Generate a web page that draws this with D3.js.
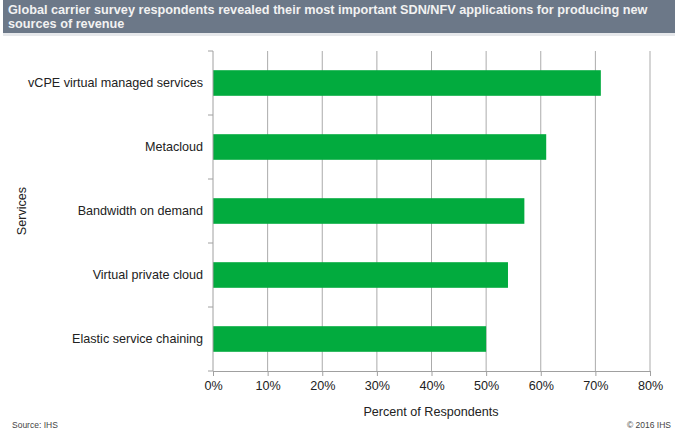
<!DOCTYPE html>
<html><head><meta charset="utf-8">
<script src="https://cdn.jsdelivr.net/npm/d3@7"></script>
<style>body{margin:0;background:#fff;} svg{display:block;font-family:"Liberation Sans",Arial,sans-serif;}</style>
</head><body>
<script>
const categories = ["vCPE virtual managed services","Metacloud","Bandwidth on demand","Virtual private cloud","Elastic service chaining"];
const values = [71, 61, 57, 54, 50];
const xTicks = [0,10,20,30,40,50,60,70,80];
const titleLines = ["Global carrier survey respondents revealed their most important SDN/NFV applications for producing new","sources of revenue"];

const W=677,H=432;
const svg=d3.select("body").append("svg").attr("width",W).attr("height",H);
svg.append("rect").attr("x",3).attr("y",0).attr("width",672).attr("height",33).attr("fill","#6c7888");
svg.append("rect").attr("x",3).attr("y",33).attr("width",672).attr("height",3).attr("fill","#e6e8eb");
svg.selectAll("text.title").data(titleLines).join("text").attr("class","title")
  .attr("x",8).attr("y",(d,i)=>14+i*13.5).attr("fill","#f2f2f2")
  .attr("font-size","12.7px").attr("font-weight","bold").text(d=>d);

const x=d3.scaleLinear().domain([0,80]).range([213,650]);
const y=d3.scaleBand().domain(categories).range([51,371]).paddingInner(0.6).paddingOuter(0.3);
const yb=d3.scaleBand().domain(categories).range([51,371]);

// gridlines
svg.append("g").selectAll("line").data(xTicks.slice(1)).join("line")
  .attr("x1",d=>x(d)).attr("x2",d=>x(d)).attr("y1",51).attr("y2",371)
  .attr("stroke","#ababab").attr("stroke-width",1);

// bars
svg.append("g").selectAll("rect").data(values).join("rect")
  .attr("x",x(0)).attr("y",(d,i)=>y(categories[i])).attr("height",y.bandwidth())
  .attr("width",d=>x(d)-x(0)).attr("fill","#02ab3e");

// x axis
const xa=svg.append("g").attr("transform","translate(0,371)")
  .call(d3.axisBottom(x).tickValues(xTicks).tickFormat(d=>d+"%").tickSize(5).tickSizeOuter(0));
xa.select(".domain").attr("stroke","#a0a0a0");
xa.selectAll(".tick line").attr("stroke","#a0a0a0");
xa.selectAll("text").attr("font-size","12.6px").attr("fill","#222").attr("dy","0.9em").attr("font-family","Liberation Sans, Arial, sans-serif");

// y axis
const ya=svg.append("g").attr("transform","translate(213,0)")
  .call(d3.axisLeft(y).tickSize(0).tickPadding(10).tickSizeOuter(0));
ya.select(".domain").remove();
ya.selectAll("text").attr("font-size","12.6px").attr("fill","#222").attr("font-family","Liberation Sans, Arial, sans-serif");
svg.append("line").attr("x1",213).attr("x2",213).attr("y1",51).attr("y2",371).attr("stroke","#a0a0a0");
svg.append("g").selectAll("line").data([...categories.map(c=>yb(c)),371]).join("line")
  .attr("x1",208).attr("x2",213).attr("y1",d=>d).attr("y2",d=>d).attr("stroke","#a0a0a0");

svg.append("text").attr("transform","translate(26,211) rotate(-90)").attr("text-anchor","middle")
  .attr("font-size","12.6px").attr("fill","#222").text("Services");
svg.append("text").attr("x",431).attr("y",416).attr("text-anchor","middle")
  .attr("font-size","12.6px").attr("fill","#222").text("Percent of Respondents");
svg.append("text").attr("x",12).attr("y",428).attr("font-size","8.5px").attr("fill","#444").text("Source: IHS");
svg.append("text").attr("x",671).attr("y",428).attr("text-anchor","end").attr("font-size","8.5px").attr("fill","#444").text("© 2016 IHS");
</script>
</body></html>
